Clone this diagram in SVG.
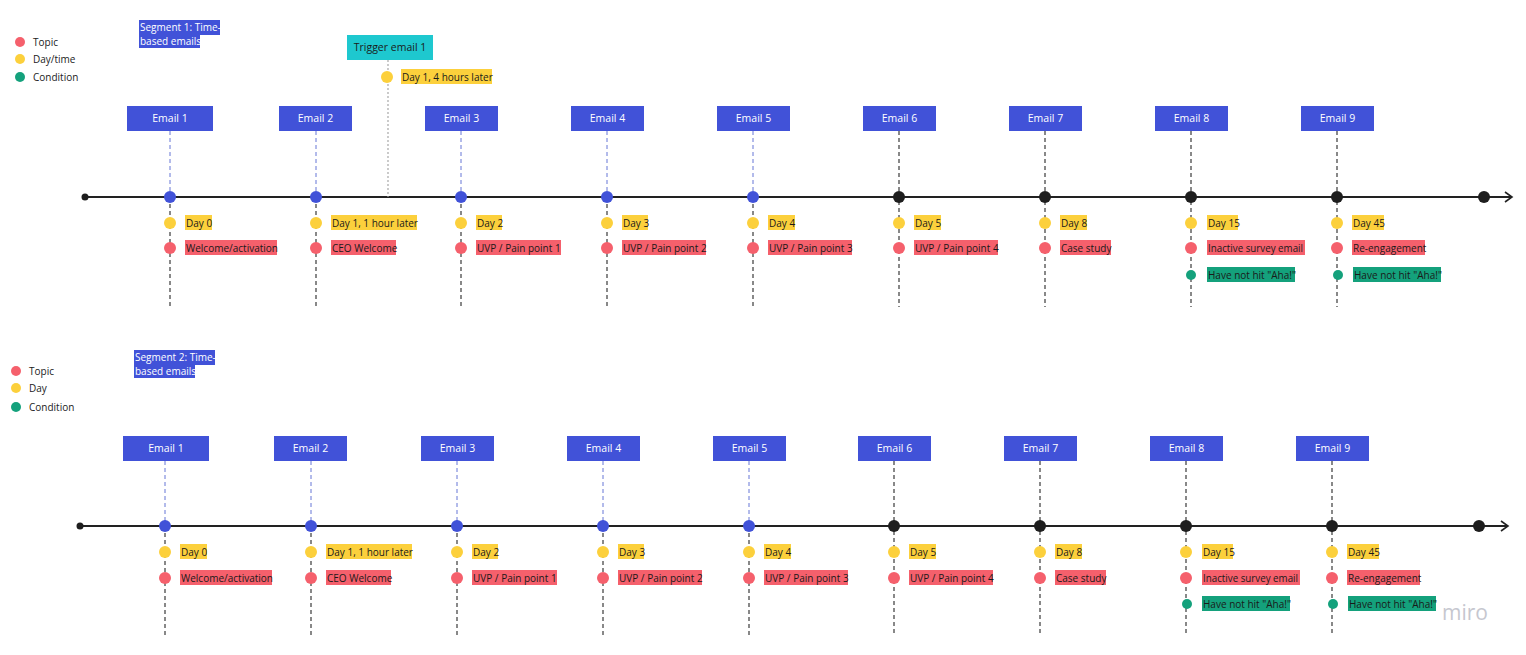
<svg xmlns="http://www.w3.org/2000/svg" width="1526" height="655" viewBox="0 0 1526 655">
<defs>
<style>
text{font-family:"Open Sans","Noto Sans","Liberation Sans",sans-serif;}
.bg{fill:#ffffff}
.box{fill:#4152d8}
.boxt{fill:#ffffff;font-size:10.5px;text-anchor:middle}
.lbl{fill:#1a1a1a;font-size:10px}
.leg{fill:#222;font-size:10px}
.ttl{fill:#ffffff;font-size:10px}
.y{fill:#fcd03c}
.r{fill:#f5606c}
.g{fill:#14a17c}
.nb{fill:#4152d8}
.nk{fill:#1e1e1e}
.tl{stroke:#222;stroke-width:2;fill:none}
.dblue{stroke:#6677d6;stroke-width:1;stroke-dasharray:4 3;fill:none}
.dgray{stroke:#3a3a3a;stroke-width:1.2;stroke-dasharray:4 3;fill:none}
.dtrig{stroke:#a8a8a8;stroke-width:1.2;stroke-dasharray:2 2;fill:none}
</style>
<marker id="arr" markerWidth="10" markerHeight="12" refX="8" refY="6" orient="auto" markerUnits="userSpaceOnUse">
<path d="M1,1 L8,6 L1,11" fill="none" stroke="#222" stroke-width="1.6"/>
</marker>
</defs>
<rect class="bg" width="1526" height="655"/>

<!-- ===== Segment 1 ===== -->
<g id="legend1">
<circle cx="20" cy="42" r="5" class="r"/><text x="33" y="45.5" class="leg">Topic</text>
<circle cx="20" cy="59" r="5" class="y"/><text x="33" y="62.5" class="leg">Day/time</text>
<circle cx="20" cy="77" r="5" class="g"/><text x="33" y="80.5" class="leg">Condition</text>
</g>
<g id="title1">
<rect x="139" y="20" width="81" height="15" class="box"/>
<rect x="139" y="35" width="61" height="13" class="box"/>
<text x="140" y="31" class="ttl">Segment 1: Time-</text>
<text x="140" y="45" class="ttl">based emails</text>
</g>

<g id="connectors1">
<line x1="85" y1="197" x2="1512" y2="197" class="tl" marker-end="url(#arr)"/>
<line x1="388" y1="60" x2="388" y2="197" class="dtrig"/>
<line x1="170" y1="131" x2="170" y2="197" class="dblue"/><line x1="170" y1="197" x2="170" y2="307" class="dgray"/>
<line x1="316" y1="131" x2="316" y2="197" class="dblue"/><line x1="316" y1="197" x2="316" y2="307" class="dgray"/>
<line x1="461" y1="131" x2="461" y2="197" class="dblue"/><line x1="461" y1="197" x2="461" y2="307" class="dgray"/>
<line x1="607" y1="131" x2="607" y2="197" class="dblue"/><line x1="607" y1="197" x2="607" y2="307" class="dgray"/>
<line x1="753" y1="131" x2="753" y2="197" class="dblue"/><line x1="753" y1="197" x2="753" y2="307" class="dgray"/>
<line x1="899" y1="131" x2="899" y2="307" class="dgray"/>
<line x1="1045" y1="131" x2="1045" y2="307" class="dgray"/>
<line x1="1191" y1="131" x2="1191" y2="307" class="dgray"/>
<line x1="1337" y1="131" x2="1337" y2="307" class="dgray"/>
<circle cx="85" cy="197" r="3.5" class="nk"/>
<circle cx="1484" cy="197" r="6" class="nk"/>
</g>

<g id="trigger1">
<rect x="347" y="35" width="86" height="25" fill="#1ec8cf"/>
<text x="390" y="51" fill="#1a1a1a" font-size="10.5" text-anchor="middle">Trigger email 1</text>
<circle cx="387" cy="77" r="6" class="y"/>
<rect x="401" y="69" width="91" height="15" class="y"/>
<text x="402" y="80.5" class="lbl">Day 1, 4 hours later</text>
</g>

<g id="s1-email1">
<rect x="127" y="106" width="86" height="25" class="box"/><text x="170" y="122" class="boxt">Email 1</text>
<circle cx="170" cy="197" r="6" class="nb"/>
<circle cx="170" cy="223" r="6" class="y"/><rect x="185" y="215" width="27" height="15" class="y"/><text x="186" y="226.5" class="lbl">Day 0</text>
<circle cx="170" cy="248" r="6" class="r"/><rect x="185" y="240" width="92" height="15" class="r"/><text x="186" y="251.5" class="lbl">Welcome/activation</text>
</g>
<g id="s1-email2">
<rect x="279" y="106" width="73" height="25" class="box"/><text x="315.5" y="122" class="boxt">Email 2</text>
<circle cx="316" cy="197" r="6" class="nb"/>
<circle cx="316" cy="223" r="6" class="y"/><rect x="331" y="215" width="86" height="15" class="y"/><text x="332" y="226.5" class="lbl">Day 1, 1 hour later</text>
<circle cx="316" cy="248" r="6" class="r"/><rect x="331" y="240" width="65" height="15" class="r"/><text x="332" y="251.5" class="lbl">CEO Welcome</text>
</g>
<g id="s1-email3">
<rect x="425" y="106" width="73" height="25" class="box"/><text x="461.5" y="122" class="boxt">Email 3</text>
<circle cx="461" cy="197" r="6" class="nb"/>
<circle cx="461" cy="223" r="6" class="y"/><rect x="476" y="215" width="26" height="15" class="y"/><text x="477" y="226.5" class="lbl">Day 2</text>
<circle cx="461" cy="248" r="6" class="r"/><rect x="476" y="240" width="85" height="15" class="r"/><text x="477" y="251.5" class="lbl">UVP / Pain point 1</text>
</g>
<g id="s1-email4">
<rect x="571" y="106" width="73" height="25" class="box"/><text x="607.5" y="122" class="boxt">Email 4</text>
<circle cx="607" cy="197" r="6" class="nb"/>
<circle cx="607" cy="223" r="6" class="y"/><rect x="622" y="215" width="26" height="15" class="y"/><text x="623" y="226.5" class="lbl">Day 3</text>
<circle cx="607" cy="248" r="6" class="r"/><rect x="622" y="240" width="84" height="15" class="r"/><text x="623" y="251.5" class="lbl">UVP / Pain point 2</text>
</g>
<g id="s1-email5">
<rect x="717" y="106" width="73" height="25" class="box"/><text x="753.5" y="122" class="boxt">Email 5</text>
<circle cx="753" cy="197" r="6" class="nb"/>
<circle cx="753" cy="223" r="6" class="y"/><rect x="768" y="215" width="27" height="15" class="y"/><text x="769" y="226.5" class="lbl">Day 4</text>
<circle cx="753" cy="248" r="6" class="r"/><rect x="768" y="240" width="84" height="15" class="r"/><text x="769" y="251.5" class="lbl">UVP / Pain point 3</text>
</g>
<g id="s1-email6">
<rect x="863" y="106" width="73" height="25" class="box"/><text x="899.5" y="122" class="boxt">Email 6</text>
<circle cx="899" cy="197" r="6" class="nk"/>
<circle cx="899" cy="223" r="6" class="y"/><rect x="914" y="215" width="27" height="15" class="y"/><text x="915" y="226.5" class="lbl">Day 5</text>
<circle cx="899" cy="248" r="6" class="r"/><rect x="914" y="240" width="84" height="15" class="r"/><text x="915" y="251.5" class="lbl">UVP / Pain point 4</text>
</g>
<g id="s1-email7">
<rect x="1009" y="106" width="73" height="25" class="box"/><text x="1045.5" y="122" class="boxt">Email 7</text>
<circle cx="1045" cy="197" r="6" class="nk"/>
<circle cx="1045" cy="223" r="6" class="y"/><rect x="1060" y="215" width="27" height="15" class="y"/><text x="1061" y="226.5" class="lbl">Day 8</text>
<circle cx="1045" cy="248" r="6" class="r"/><rect x="1060" y="240" width="51" height="15" class="r"/><text x="1061" y="251.5" class="lbl">Case study</text>
</g>
<g id="s1-email8">
<rect x="1155" y="106" width="73" height="25" class="box"/><text x="1191.5" y="122" class="boxt">Email 8</text>
<circle cx="1191" cy="197" r="6" class="nk"/>
<circle cx="1191" cy="223" r="6" class="y"/><rect x="1207" y="215" width="31" height="15" class="y"/><text x="1208" y="226.5" class="lbl">Day 15</text>
<circle cx="1191" cy="248" r="6" class="r"/><rect x="1207" y="240" width="98" height="15" class="r"/><text x="1208" y="251.5" class="lbl" textLength="95" lengthAdjust="spacingAndGlyphs">Inactive survey email</text>
<circle cx="1191" cy="275" r="5" class="g"/><rect x="1207" y="267" width="88" height="15" class="g"/><text x="1208" y="278.5" class="lbl">Have not hit "Aha!"</text>
</g>
<g id="s1-email9">
<rect x="1301" y="106" width="73" height="25" class="box"/><text x="1337.5" y="122" class="boxt">Email 9</text>
<circle cx="1337" cy="197" r="6" class="nk"/>
<circle cx="1337" cy="223" r="6" class="y"/><rect x="1352" y="215" width="32" height="15" class="y"/><text x="1353" y="226.5" class="lbl">Day 45</text>
<circle cx="1337" cy="248" r="6" class="r"/><rect x="1352" y="240" width="73" height="15" class="r"/><text x="1353" y="251.5" class="lbl">Re-engagement</text>
<circle cx="1338" cy="275" r="5" class="g"/><rect x="1353" y="267" width="88" height="15" class="g"/><text x="1354" y="278.5" class="lbl">Have not hit "Aha!"</text>
</g>

<!-- ===== Segment 2 ===== -->
<g id="legend2">
<circle cx="16" cy="371" r="5" class="r"/><text x="29" y="374.5" class="leg">Topic</text>
<circle cx="16" cy="388" r="5" class="y"/><text x="29" y="391.5" class="leg">Day</text>
<circle cx="16" cy="407" r="5" class="g"/><text x="29" y="410.5" class="leg">Condition</text>
</g>
<g id="title2">
<rect x="134" y="350" width="81" height="15" class="box"/>
<rect x="134" y="365" width="61" height="13" class="box"/>
<text x="135" y="361" class="ttl">Segment 2: Time-</text>
<text x="135" y="375" class="ttl">based emails</text>
</g>

<g id="connectors2">
<line x1="80" y1="526" x2="1508" y2="526" class="tl" marker-end="url(#arr)"/>
<line x1="165" y1="461" x2="165" y2="526" class="dblue"/><line x1="165" y1="526" x2="165" y2="636" class="dgray"/>
<line x1="311" y1="461" x2="311" y2="526" class="dblue"/><line x1="311" y1="526" x2="311" y2="636" class="dgray"/>
<line x1="457" y1="461" x2="457" y2="526" class="dblue"/><line x1="457" y1="526" x2="457" y2="636" class="dgray"/>
<line x1="603" y1="461" x2="603" y2="526" class="dblue"/><line x1="603" y1="526" x2="603" y2="636" class="dgray"/>
<line x1="749" y1="461" x2="749" y2="526" class="dblue"/><line x1="749" y1="526" x2="749" y2="636" class="dgray"/>
<line x1="894" y1="461" x2="894" y2="636" class="dgray"/>
<line x1="1040" y1="461" x2="1040" y2="636" class="dgray"/>
<line x1="1186" y1="461" x2="1186" y2="636" class="dgray"/>
<line x1="1332" y1="461" x2="1332" y2="636" class="dgray"/>
<circle cx="80" cy="526" r="3.5" class="nk"/>
<circle cx="1479" cy="526" r="6" class="nk"/>
</g>

<g id="s2-email1">
<rect x="123" y="436" width="86" height="25" class="box"/><text x="166" y="452" class="boxt">Email 1</text>
<circle cx="165" cy="526" r="6" class="nb"/>
<circle cx="165" cy="552" r="6" class="y"/><rect x="180" y="544" width="27" height="15" class="y"/><text x="181" y="555.5" class="lbl">Day 0</text>
<circle cx="165" cy="578" r="6" class="r"/><rect x="180" y="570" width="92" height="15" class="r"/><text x="181" y="581.5" class="lbl">Welcome/activation</text>
</g>
<g id="s2-email2">
<rect x="274" y="436" width="73" height="25" class="box"/><text x="310.5" y="452" class="boxt">Email 2</text>
<circle cx="311" cy="526" r="6" class="nb"/>
<circle cx="311" cy="552" r="6" class="y"/><rect x="326" y="544" width="86" height="15" class="y"/><text x="327" y="555.5" class="lbl">Day 1, 1 hour later</text>
<circle cx="311" cy="578" r="6" class="r"/><rect x="326" y="570" width="65" height="15" class="r"/><text x="327" y="581.5" class="lbl">CEO Welcome</text>
</g>
<g id="s2-email3">
<rect x="421" y="436" width="73" height="25" class="box"/><text x="457.5" y="452" class="boxt">Email 3</text>
<circle cx="457" cy="526" r="6" class="nb"/>
<circle cx="457" cy="552" r="6" class="y"/><rect x="472" y="544" width="26" height="15" class="y"/><text x="473" y="555.5" class="lbl">Day 2</text>
<circle cx="457" cy="578" r="6" class="r"/><rect x="472" y="570" width="85" height="15" class="r"/><text x="473" y="581.5" class="lbl">UVP / Pain point 1</text>
</g>
<g id="s2-email4">
<rect x="567" y="436" width="73" height="25" class="box"/><text x="603.5" y="452" class="boxt">Email 4</text>
<circle cx="603" cy="526" r="6" class="nb"/>
<circle cx="603" cy="552" r="6" class="y"/><rect x="618" y="544" width="26" height="15" class="y"/><text x="619" y="555.5" class="lbl">Day 3</text>
<circle cx="603" cy="578" r="6" class="r"/><rect x="618" y="570" width="84" height="15" class="r"/><text x="619" y="581.5" class="lbl">UVP / Pain point 2</text>
</g>
<g id="s2-email5">
<rect x="713" y="436" width="73" height="25" class="box"/><text x="749.5" y="452" class="boxt">Email 5</text>
<circle cx="749" cy="526" r="6" class="nb"/>
<circle cx="749" cy="552" r="6" class="y"/><rect x="764" y="544" width="27" height="15" class="y"/><text x="765" y="555.5" class="lbl">Day 4</text>
<circle cx="749" cy="578" r="6" class="r"/><rect x="764" y="570" width="84" height="15" class="r"/><text x="765" y="581.5" class="lbl">UVP / Pain point 3</text>
</g>
<g id="s2-email6">
<rect x="858" y="436" width="73" height="25" class="box"/><text x="894.5" y="452" class="boxt">Email 6</text>
<circle cx="894" cy="526" r="6" class="nk"/>
<circle cx="894" cy="552" r="6" class="y"/><rect x="909" y="544" width="27" height="15" class="y"/><text x="910" y="555.5" class="lbl">Day 5</text>
<circle cx="894" cy="578" r="6" class="r"/><rect x="909" y="570" width="84" height="15" class="r"/><text x="910" y="581.5" class="lbl">UVP / Pain point 4</text>
</g>
<g id="s2-email7">
<rect x="1004" y="436" width="73" height="25" class="box"/><text x="1040.5" y="452" class="boxt">Email 7</text>
<circle cx="1040" cy="526" r="6" class="nk"/>
<circle cx="1040" cy="552" r="6" class="y"/><rect x="1055" y="544" width="27" height="15" class="y"/><text x="1056" y="555.5" class="lbl">Day 8</text>
<circle cx="1040" cy="578" r="6" class="r"/><rect x="1055" y="570" width="51" height="15" class="r"/><text x="1056" y="581.5" class="lbl">Case study</text>
</g>
<g id="s2-email8">
<rect x="1150" y="436" width="73" height="25" class="box"/><text x="1186.5" y="452" class="boxt">Email 8</text>
<circle cx="1186" cy="526" r="6" class="nk"/>
<circle cx="1186" cy="552" r="6" class="y"/><rect x="1202" y="544" width="31" height="15" class="y"/><text x="1203" y="555.5" class="lbl">Day 15</text>
<circle cx="1186" cy="578" r="6" class="r"/><rect x="1202" y="570" width="98" height="15" class="r"/><text x="1203" y="581.5" class="lbl" textLength="95" lengthAdjust="spacingAndGlyphs">Inactive survey email</text>
<circle cx="1187" cy="604" r="5" class="g"/><rect x="1202" y="596" width="88" height="15" class="g"/><text x="1203" y="607.5" class="lbl">Have not hit "Aha!"</text>
</g>
<g id="s2-email9">
<rect x="1296" y="436" width="73" height="25" class="box"/><text x="1332.5" y="452" class="boxt">Email 9</text>
<circle cx="1332" cy="526" r="6" class="nk"/>
<circle cx="1332" cy="552" r="6" class="y"/><rect x="1347" y="544" width="32" height="15" class="y"/><text x="1348" y="555.5" class="lbl">Day 45</text>
<circle cx="1332" cy="578" r="6" class="r"/><rect x="1347" y="570" width="73" height="15" class="r"/><text x="1348" y="581.5" class="lbl">Re-engagement</text>
<circle cx="1333" cy="604" r="5" class="g"/><rect x="1348" y="596" width="88" height="15" class="g"/><text x="1349" y="607.5" class="lbl">Have not hit "Aha!"</text>
</g>

<text x="1442" y="620" fill="#c6c7cf" font-size="21" font-family="Lato,'Open Sans',sans-serif">miro</text>
</svg>
